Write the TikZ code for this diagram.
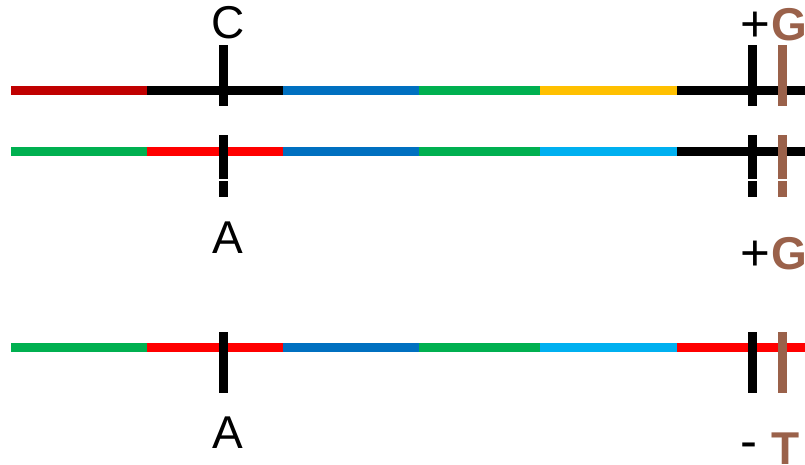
\documentclass[tikz,border=0pt]{standalone}
\usepackage{fontspec}
\setmainfont{Liberation Sans}
\definecolor{dred}{HTML}{C00000}
\definecolor{bred}{HTML}{FF0000}
\definecolor{dblue}{HTML}{0070C0}
\definecolor{lblue}{HTML}{00B0F0}
\definecolor{gr}{HTML}{00B050}
\definecolor{yel}{HTML}{FFC000}
\definecolor{brn}{HTML}{9A614A}
\begin{document}
\begin{tikzpicture}[x=1pt,y=-1pt,
  seg/.style={line width=9pt,line cap=butt},
  tick/.style={line width=9pt,line cap=butt},
  lbl/.style={inner sep=0pt,font=\fontsize{46}{46}\selectfont},
  sgn/.style={inner sep=0pt,font=\fontsize{51}{51}\selectfont},
  blbl/.style={inner sep=0pt,font=\fontsize{46}{46}\selectfont\bfseries,text=brn}]
\useasboundingbox (0,0) rectangle (805,464);
\clip (0,0) rectangle (805,464);
% boundary coordinates
\foreach \r/\y in {a/90.5,b/151.5,c/347.5}{
  \foreach \i/\x in {0/11,1/147,2/283,3/419,4/540,5/677,6/806}{
    \coordinate (\r\i) at (\x,\y);
  }
}
% row 1
\draw[seg,dred] (a0) -- (a1);
\draw[seg,black] (a1) -- (a2);
\draw[seg,dblue] (a2) -- (a3);
\draw[seg,gr] (a3) -- (a4);
\draw[seg,yel] (a4) -- (a5);
\draw[seg,black] (a5) -- (a6);
% row 2
\draw[seg,gr] (b0) -- (b1);
\draw[seg,bred] (b1) -- (b2);
\draw[seg,dblue] (b2) -- (b3);
\draw[seg,gr] (b3) -- (b4);
\draw[seg,lblue] (b4) -- (b5);
\draw[seg,black] (b5) -- (b6);
% row 3
\draw[seg,gr] (c0) -- (c1);
\draw[seg,bred] (c1) -- (c2);
\draw[seg,dblue] (c2) -- (c3);
\draw[seg,gr] (c3) -- (c4);
\draw[seg,lblue] (c4) -- (c5);
\draw[seg,bred] (c5) -- (c6);
% ticks row 1
\coordinate (t1a) at (223.8,45); \coordinate (t1b) at (223.8,106);
\coordinate (t2a) at (752.8,45); \coordinate (t2b) at (752.8,106);
\coordinate (t3a) at (782.5,45); \coordinate (t3b) at (782.5,106);
\draw[tick,black] (t1a) -- (t1b);
\draw[tick,black] (t2a) -- (t2b);
\draw[tick,brn] (t3a) -- (t3b);
% ticks row 2 (with small gap)
\coordinate (u1a) at (223.8,135); \coordinate (u1m) at (223.8,179.3); \coordinate (u1n) at (223.8,181); \coordinate (u1b) at (223.8,197);
\coordinate (u2a) at (752.8,135); \coordinate (u2m) at (752.8,179.3); \coordinate (u2n) at (752.8,181); \coordinate (u2b) at (752.8,197);
\coordinate (u3a) at (782.5,135); \coordinate (u3m) at (782.5,179.3); \coordinate (u3n) at (782.5,181); \coordinate (u3b) at (782.5,197);
\draw[tick,black] (u1a) -- (u1m) (u1n) -- (u1b);
\draw[tick,black] (u2a) -- (u2m) (u2n) -- (u2b);
\draw[tick,brn] (u3a) -- (u3m) (u3n) -- (u3b);
% ticks row 3
\coordinate (v1a) at (223.8,332); \coordinate (v1b) at (223.8,393);
\coordinate (v2a) at (752.8,332); \coordinate (v2b) at (752.8,393);
\coordinate (v3a) at (782.5,332); \coordinate (v3b) at (782.5,393);
\draw[tick,black] (v1a) -- (v1b);
\draw[tick,black] (v2a) -- (v2b);
\draw[tick,brn] (v3a) -- (v3b);
% labels
\node[lbl,anchor=base] (C) at (228.5,38) {C};
\node[sgn,anchor=center] (p1) at (755,27) {+};
\node[blbl,anchor=base west] (G1) at (771,40) {G};
\node[lbl,anchor=base] (A1) at (228,253) {A};
\node[sgn,anchor=center] (p2) at (755,255.5) {+};
\node[blbl,anchor=base west] (G2) at (771,269) {G};
\node[lbl,anchor=base] (A2) at (228,448) {A};
\node[sgn,anchor=center] (m3) at (749,450.5) {-};
\node[blbl,anchor=base west] (T3) at (771,464) {T};
\end{tikzpicture}
\end{document}
